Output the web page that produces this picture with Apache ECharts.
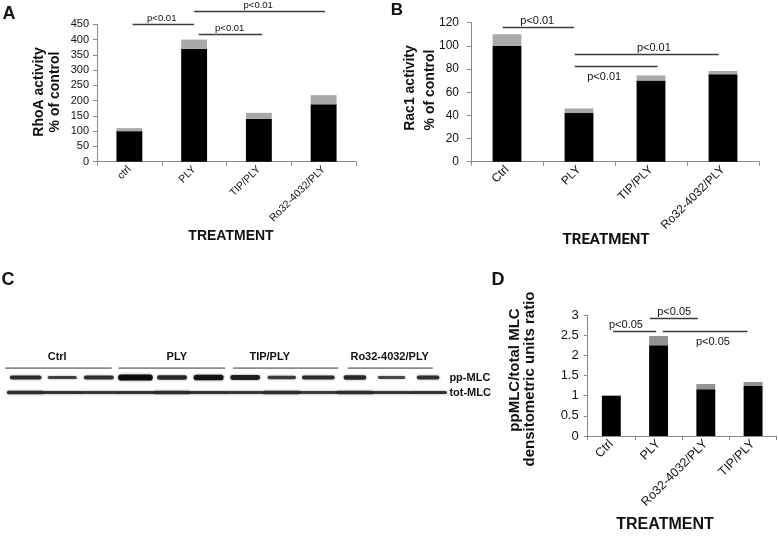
<!DOCTYPE html>
<html><head><meta charset="utf-8">
<script src="https://cdn.jsdelivr.net/npm/echarts@6/dist/echarts.min.js"></script>
<style>html,body{margin:0;padding:0;background:#fff}#c{width:778px;height:541px}</style>
</head><body><div id="c"></div>
<script>
// ---------- DATA ----------
const catA = ['ctrl', 'PLY', 'TIP/PLY', 'Ro32-4032/PLY'];
const meanA = [100, 370, 140, 188];
const errA = [10, 30, 20, 30];
const sigA = [
  {from: 0.05, to: 1.0, y: 450, at: 0.5, text: 'p<0.01', below: 0},
  {from: 1.0, to: 3.02, y: 494, at: 1.99, text: 'p<0.01', below: 0},
  {from: 1.07, to: 2.05, y: 417, at: 1.55, text: 'p<0.01', below: 0}
];

const catB = ['Ctrl', 'PLY', 'TIP/PLY', 'Ro32-4032/PLY'];
const meanB = [100, 42, 70, 75.5];
const errB = [10, 4, 4.5, 2.8];
const sigB = [
  {from: -0.06, to: 0.93, y: 116.6, at: 0.42, text: 'p<0.01', below: 0},
  {from: 0.94, to: 2.94, y: 93, at: 2.04, text: 'p<0.01', below: 0},
  {from: 0.94, to: 2.09, y: 82.9, at: 1.35, text: 'p<0.01', below: 1}
];

const catD = ['Ctrl', 'PLY', 'Ro32-4032/PLY', 'TIP/PLY'];
const meanD = [1.0, 2.25, 1.16, 1.24];
const errD = [0, 0.23, 0.13, 0.10];
const sigD = [
  {from: 0.04, to: 0.95, y: 2.6, at: 0.31, text: 'p<0.05', below: 0},
  {from: 0.82, to: 1.83, y: 2.92, at: 1.33, text: 'p<0.05', below: 0},
  {from: 1.09, to: 2.88, y: 2.6, at: 2.15, text: 'p<0.05', below: 1}
];

// Western blot (panel C): 12 lanes, relative band density
const blotRows = ['tot-MLC', 'pp-MLC'];
const ppMLC = [0.6, 0.4, 0.55, 1.0, 0.65, 0.9, 0.75, 0.45, 0.6, 0.65, 0.35, 0.55];
const ppWidth = [0.87, 0.8, 0.82, 0.95, 0.82, 0.82, 0.82, 0.78, 0.9, 0.62, 0.75, 0.62];
const totMLC = [0.6, 0.55, 0.5, 0.55, 0.6, 0.55, 0.5, 0.6, 0.45, 0.6, 0.5, 0.55];
const blotGroups = [
  {name: 'Ctrl', from: -0.06, to: 2.85, at: 1.36},
  {name: 'PLY', from: 3.04, to: 5.95, at: 4.63},
  {name: 'TIP/PLY', from: 6.17, to: 9.04, at: 7.17},
  {name: 'Ro32-4032/PLY', from: 9.3, to: 11.63, at: 10.45}
];

// ---------- CHART ----------
const FONT = 'Liberation Sans, Arial, sans-serif';
const AX = '#8a8a8a';

function xCat(gi, data, fs) {
  return {
    type: 'category', gridIndex: gi, data: data,
    axisLine: {lineStyle: {color: AX, width: 1}},
    axisTick: {show: true, length: 4, lineStyle: {color: AX}},
    axisLabel: {rotate: 45, fontSize: fs, fontFamily: FONT, color: '#111', margin: 6, interval: 0}
  };
}
function yVal(gi, max, interval, fs, margin) {
  return {
    type: 'value', gridIndex: gi, min: 0, max: max, interval: interval,
    splitLine: {show: false},
    axisLine: {show: true, lineStyle: {color: AX, width: 1}},
    axisTick: {show: true, length: 4, lineStyle: {color: AX}},
    axisLabel: {fontSize: fs, fontFamily: FONT, color: '#111', margin: margin}
  };
}
function bars(gi, mean, err, grey) {
  return [
    {type: 'bar', xAxisIndex: gi, yAxisIndex: gi, stack: 's' + gi, data: mean,
     barWidth: '40%', itemStyle: {color: '#000'}, silent: true},
    {type: 'bar', xAxisIndex: gi, yAxisIndex: gi, stack: 's' + gi, data: err,
     barWidth: '40%', itemStyle: {color: grey}, silent: true}
  ];
}
function sigSeries(gi, sig, fs) {
  return {
    type: 'custom', xAxisIndex: gi, yAxisIndex: gi, clip: false, silent: true,
    data: sig.map(s => [0, s.y]),
    renderItem: function (params, api) {
      const s = sig[params.dataIndex];
      const c0 = api.coord([0, api.value(1)]);
      const bw = api.size([1, 0])[0];
      const y = Math.round(c0[1]) + 0.5;
      return {type: 'group', children: [
        {type: 'line', shape: {x1: c0[0] + s.from * bw, y1: y, x2: c0[0] + s.to * bw, y2: y},
         style: {stroke: '#3a3a3a', lineWidth: 1.3}},
        {type: 'text', style: {text: s.text, x: c0[0] + s.at * bw, y: s.below ? y + 5 : y - 1,
          align: 'center', verticalAlign: s.below ? 'top' : 'bottom',
          fontSize: fs, fontFamily: FONT, fill: '#111'}}
      ]};
    }
  };
}
function vtext(x, y, text, size, font) {
  return {type: 'text', x: x, y: y, rotation: Math.PI / 2,
    style: {text: text, align: 'center', verticalAlign: 'middle', fontSize: size,
      fontWeight: 'bold', fontFamily: font || FONT, fill: '#111'}};
}
function htext(x, y, text, size, font) {
  return {type: 'text', x: x, y: y,
    style: {text: text, align: 'center', verticalAlign: 'middle', fontSize: size,
      fontWeight: 'bold', fontFamily: font || FONT, fill: '#111'}};
}

const bandData = [];
ppMLC.forEach((d, i) => bandData.push([i + 0.5, 1, d, ppWidth[i]]));
totMLC.forEach((d, i) => bandData.push([i + 0.5, 0, d, 1.03]));

const option = {
  animation: false,
  backgroundColor: '#fff',
  grid: [
    {left: 97, top: 24.3, width: 259, height: 137.4, outerBoundsMode: 'none'},
    {left: 471, top: 22.7, width: 288, height: 139, outerBoundsMode: 'none'},
    {left: 587.7, top: 315, width: 189, height: 121, outerBoundsMode: 'none'},
    {left: 7.4, top: 370, width: 439, height: 30, outerBoundsMode: 'none'}
  ],
  xAxis: [
    xCat(0, catA, 10.5),
    xCat(1, catB, 12),
    xCat(2, catD, 12.5),
    {type: 'value', gridIndex: 3, min: 0, max: 12, show: false}
  ],
  yAxis: [
    yVal(0, 450, 50, 11, 8),
    yVal(1, 120, 20, 12, 12),
    yVal(2, 3, 0.5, 13, 9),
    {type: 'category', gridIndex: 3, data: blotRows, position: 'right',
     axisLine: {show: false}, axisTick: {show: false}, splitLine: {show: false},
     axisLabel: {fontSize: 11, fontWeight: 'bold', fontFamily: FONT, color: '#111', margin: 3}}
  ],
  series: [
    ...bars(0, meanA, errA, '#a9a9a9'),
    sigSeries(0, sigA, 9.5),
    ...bars(1, meanB, errB, '#a9a9a9'),
    sigSeries(1, sigB, 11),
    ...bars(2, meanD, errD, '#939393'),
    sigSeries(2, sigD, 11),
    {
      type: 'custom', xAxisIndex: 3, yAxisIndex: 3, clip: false, silent: true,
      data: bandData,
      renderItem: function (params, api) {
        const c = api.coord([api.value(0), api.value(1)]);
        const lw = api.size([1, 0])[0];
        const d = api.value(2);
        const isPP = api.value(1) === 1;
        const w = lw * api.value(3);
        const h = isPP ? (1.2 + 5 * d) : (1.8 + 2.6 * d);
        return {type: 'rect',
          shape: {x: c[0] - w / 2, y: c[1] - h / 2, width: w, height: h, r: h / 2},
          style: {fill: 'rgba(12,12,12,' + (0.5 + 0.5 * d) + ')',
            shadowBlur: 2.5, shadowColor: 'rgba(0,0,0,0.5)'}};
      }
    },
    {
      type: 'custom', xAxisIndex: 3, yAxisIndex: 3, clip: false, silent: true,
      data: blotGroups.map(g => [g.at, 1]),
      renderItem: function (params, api) {
        const g = blotGroups[params.dataIndex];
        const c = api.coord([g.at, 1]);
        const rowH = api.size([0, 1])[1];
        const a = api.coord([g.from, 1]), b = api.coord([g.to, 1]);
        const ly = c[1] - 0.63 * rowH;
        return {type: 'group', children: [
          {type: 'line', shape: {x1: a[0], y1: ly, x2: b[0], y2: ly},
           style: {stroke: '#8c8c8c', lineWidth: 1.8}},
          {type: 'text', style: {text: g.name, x: c[0], y: c[1] - 1.35 * rowH,
            align: 'center', verticalAlign: 'middle', fontSize: 11, fontWeight: 'bold',
            fontFamily: FONT, fill: '#111'}}
        ]};
      }
    }
  ],
  graphic: [
    htext(9, 14, 'A', 18),
    vtext(39, 92, 'RhoA activity', 14),
    vtext(55, 92, '% of control', 14),
    htext(231, 236, 'TREATMENT', 14),
    htext(397, 10, 'B', 17),
    vtext(410, 88, 'Rac1 activity', 14),
    vtext(430, 90, '% of control', 14),
    htext(606, 240, 'TREATMENT', 15, 'Roboto, Liberation Sans, sans-serif'),
    htext(8, 280, 'C', 18),
    htext(498, 280, 'D', 18),
    vtext(515, 370, 'ppMLC/total MLC', 15),
    vtext(530, 379, 'densitometric units ratio', 15),
    htext(665, 525, 'TREATMENT', 16)
  ]
};

const chart = echarts.init(document.getElementById('c'), null, {renderer: 'canvas'});
chart.setOption(option);
</script>
</body></html>
